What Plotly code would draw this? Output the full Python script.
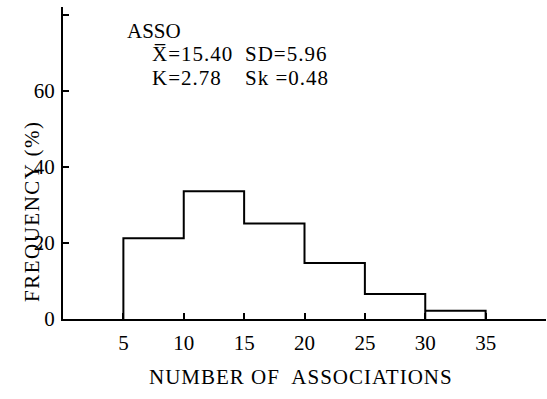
import plotly.graph_objects as go

# Data
bin_edges = [5, 10, 15, 20, 25, 30, 35]
frequency = [21.2, 33.6, 25.1, 14.7, 6.6, 2.2]
x_ticks = [5, 10, 15, 20, 25, 30, 35]
y_ticks = [0, 20, 40, 60, 80]
y_tick_labels = ["0", "20", "40", "60", ""]
stats_title = "ASSO"
stats_lines = [("X\u0305=15.40", "SD=5.96"), ("K=2.78", "Sk =0.48")]

# Build step outline of histogram
xs, ys = [bin_edges[0]], [0]
for i, f in enumerate(frequency):
    xs += [bin_edges[i], bin_edges[i + 1]]
    ys += [f, f]
    if i == len(frequency) - 2:
        # scan shows the last bar's left edge reaching the baseline
        xs += [bin_edges[i + 1], bin_edges[i + 1]]
        ys += [0, frequency[i + 1]]
xs.append(bin_edges[-1])
ys.append(0)

FONT = "Liberation Serif"

fig = go.Figure()
fig.add_trace(go.Scatter(x=xs, y=ys, mode="lines",
                         line=dict(color="black", width=2),
                         hoverinfo="skip", showlegend=False))

fig.update_layout(
    width=547, height=399,
    margin=dict(l=63, r=1, t=7, b=80, autoexpand=False),
    paper_bgcolor="white", plot_bgcolor="white",
    font=dict(family=FONT, color="black", size=20),
    showlegend=False,
    xaxis=dict(range=[0, 40], showgrid=False, zeroline=False,
               showline=True, linecolor="black", linewidth=2,
               ticks="inside", ticklen=6, tickwidth=2, tickcolor="black",
               tickvals=x_ticks, ticktext=[str(v) for v in x_ticks],
               ticklabelstandoff=4, automargin=False,
               tickfont=dict(size=21, family=FONT)),
    yaxis=dict(range=[0, 82], showgrid=False, zeroline=False,
               showline=True, linecolor="black", linewidth=2,
               ticks="inside", ticklen=6, tickwidth=2, tickcolor="black",
               tickvals=y_ticks, ticktext=y_tick_labels,
               ticklabelstandoff=2, automargin=False,
               tickfont=dict(size=21, family=FONT)),
)

annotations = [
    dict(text='<span style="letter-spacing:1px">NUMBER OF  ASSOCIATIONS</span>',
         xref="paper", yref="paper", x=(301 - 63) / 483, y=(399 - 80 - 377) / 312,
         xanchor="center", yanchor="middle", showarrow=False,
         font=dict(size=21, family=FONT)),
    dict(text='<span style="letter-spacing:1.5px">FREQUENCY (%)</span>',
         xref="paper", yref="paper", x=(32 - 63) / 483, y=(319 - 212) / 312,
         xanchor="center", yanchor="middle", textangle=-90, showarrow=False,
         font=dict(size=21, family=FONT)),
    dict(text=stats_title, xref="paper", yref="paper",
         x=(125 - 63) / 483, y=(319 - 31) / 312,
         xanchor="left", yanchor="middle", showarrow=False,
         font=dict(size=21, family=FONT)),
]
row_y = [54, 78]
for (left, right), py in zip(stats_lines, row_y):
    annotations.append(dict(text=f'<span style="letter-spacing:1px">{left}</span>',
                            xref="paper", yref="paper",
                            x=(150 - 63) / 483, y=(319 - py) / 312,
                            xanchor="left", yanchor="middle", showarrow=False,
                            font=dict(size=21, family=FONT)))
    annotations.append(dict(text=f'<span style="letter-spacing:1px">{right}</span>',
                            xref="paper", yref="paper",
                            x=(243 - 63) / 483, y=(319 - py) / 312,
                            xanchor="left", yanchor="middle", showarrow=False,
                            font=dict(size=21, family=FONT)))
fig.update_layout(annotations=annotations)

fig.write_html("out.html", config={"displayModeBar": False},
               post_script="document.body.style.margin='0';document.body.style.padding='0';")
